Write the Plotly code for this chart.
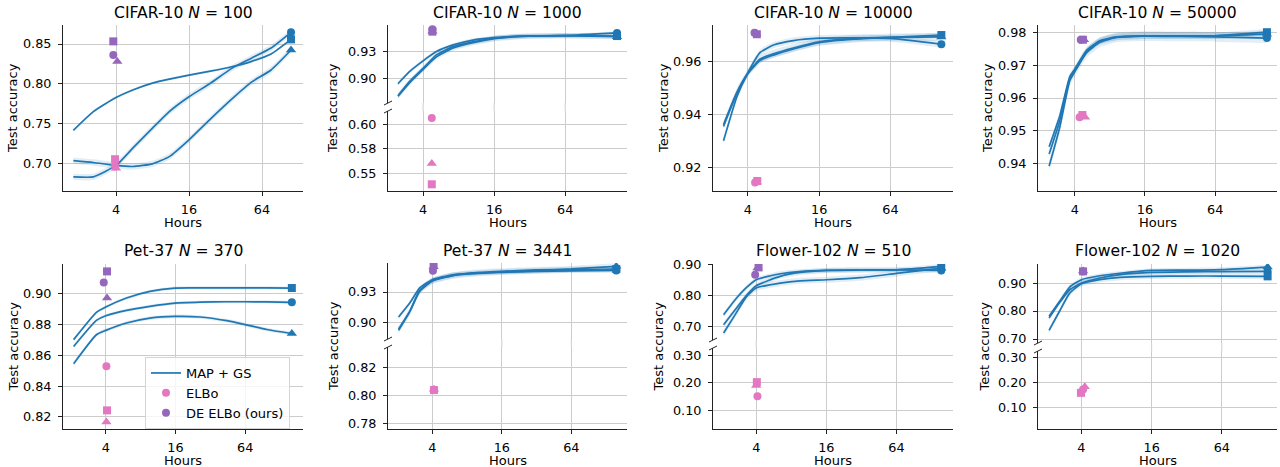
import math
import plotly.graph_objects as go

W, H = 1280, 467
BLUE = "#1f77b4"
PINK = "#e377c2"
PURPLE = "#9467bd"
BAND = "rgba(31,119,180,0.13)"
GRID = "#cccccc"
AXC = "#222222"
SYMBOLS = ["circle", "square", "triangle-up"]

# ---------------- tick labels ----------------
x_ticks = [4, 16, 64]
x_tick_labels = ["4", "16", "64"]

# ---------------- CIFAR-10 N=100 ----------------
c100_t = [1.78, 2.6, 4, 5.5, 8, 11, 16, 24, 36, 52, 76, 111]
c100_circle = [0.6837, 0.6837, 0.698, 0.7196, 0.7446, 0.7654, 0.784, 0.8008, 0.8195, 0.832, 0.845, 0.8646]
c100_square = [0.742, 0.7654, 0.783, 0.7925, 0.801, 0.806, 0.811, 0.816, 0.8215, 0.828, 0.8375, 0.8558]
c100_triangle = [0.704, 0.7017, 0.698, 0.6967, 0.700, 0.709, 0.730, 0.756, 0.781, 0.802, 0.8175, 0.8425]
c100_std = [0.004, 0.0015, 0.004]
c100_elbo_t = [3.93, 3.93, 4.0]
c100_elbo = [0.6967, 0.7058, 0.6946]
c100_de_t = [3.8, 3.8, 4.1]
c100_de = [0.8363, 0.8533, 0.828]
c100_yticks = [0.70, 0.75, 0.80, 0.85]

# ---------------- CIFAR-10 N=1000 ----------------
c1000_t = [2.45, 3.08, 4, 5.19, 7.2, 10.6, 16, 26.5, 64, 176]
c1000_circle = [0.8936, 0.9075, 0.9195, 0.930, 0.9375, 0.943, 0.9457, 0.9475, 0.948, 0.951]
c1000_square = [0.8801, 0.8963, 0.911, 0.9263, 0.9356, 0.941, 0.945, 0.9472, 0.948, 0.9475]
c1000_triangle = [0.8795, 0.895, 0.910, 0.924, 0.934, 0.940, 0.9445, 0.947, 0.948, 0.9468]
c1000_std = [0.002, 0.003, 0.003]
c1000_elbo_t = [4.74, 4.74, 4.74]
c1000_elbo = [0.6061, 0.5388, 0.5599]
c1000_de_t = [4.8, 4.8, 4.8]
c1000_de = [0.9552, 0.9525, 0.953]
c1000_yticks_up = [0.90, 0.93]
c1000_yticks_lo = [0.55, 0.575, 0.60]
c1000_ylabels_lo = ["0.55", "0.58", "0.60"]

# ---------------- CIFAR-10 N=10000 ----------------
c10000_t = [2.49, 3.23, 4, 5.08, 6.58, 9.69, 16.06, 31, 64, 172]
c10000_circle = [0.930, 0.9467, 0.9558, 0.9635, 0.9663, 0.968, 0.9689, 0.969, 0.9688, 0.9666]
c10000_square = [0.9355, 0.948, 0.9555, 0.9605, 0.9625, 0.9648, 0.9672, 0.9685, 0.9692, 0.9701]
c10000_triangle = [0.9362, 0.9485, 0.9557, 0.961, 0.963, 0.9652, 0.9675, 0.9687, 0.9692, 0.9694]
c10000_std = [0.0012, 0.001, 0.0015]
c10000_elbo_t = [4.6, 4.8, 4.75]
c10000_elbo = [0.9142, 0.9148, 0.9144]
c10000_de_t = [4.55, 4.76, 4.7]
c10000_de = [0.9710, 0.9704, 0.9708]
c10000_yticks = [0.92, 0.94, 0.96]

# ---------------- CIFAR-10 N=50000 ----------------
c50000_t = [2.41, 2.97, 3.62, 4, 5.04, 6.56, 9.13, 16, 32, 64, 178]
c50000_circle = [0.9392, 0.951, 0.9652, 0.968, 0.9738, 0.977, 0.9785, 0.9789, 0.9788, 0.9787, 0.9783]
c50000_square = [0.9451, 0.9545, 0.9665, 0.9688, 0.9745, 0.9775, 0.9787, 0.979, 0.979, 0.979, 0.9801]
c50000_triangle = [0.9429, 0.953, 0.966, 0.9685, 0.9742, 0.9773, 0.9786, 0.979, 0.979, 0.979, 0.9795]
c50000_std = [0.0015, 0.001, 0.001]
c50000_elbo_t = [4.4, 4.65, 4.9]
c50000_elbo = [0.9541, 0.9548, 0.9541]
c50000_de_t = [4.5, 4.7, 4.8]
c50000_de = [0.9778, 0.9778, 0.9778]
c50000_yticks = [0.94, 0.95, 0.96, 0.97, 0.98]

# ---------------- Pet-37 N=370 ----------------
p370_t = [2.11, 3.32, 4, 6.04, 9.62, 15.85, 26.1, 44.4, 64, 98.6, 162]
p370_circle = [0.8658, 0.8827, 0.8857, 0.8892, 0.8918, 0.8939, 0.8945, 0.8948, 0.8948, 0.8947, 0.8944]
p370_square = [0.8702, 0.8879, 0.8914, 0.8972, 0.9015, 0.9037, 0.9038, 0.9038, 0.9038, 0.9038, 0.9037]
p370_triangle = [0.8546, 0.8734, 0.8762, 0.881, 0.8842, 0.8853, 0.8849, 0.8825, 0.880, 0.8768, 0.8742]
p370_std = [0.001, 0.001, 0.0012]
p370_elbo_t = [4.05, 4.1, 4.05]
p370_elbo = [0.8529, 0.8243, 0.8168]
p370_de_t = [3.84, 4.1, 4.1]
p370_de = [0.9073, 0.9145, 0.8972]
p370_yticks = [0.82, 0.84, 0.86, 0.88, 0.90]

# ---------------- Pet-37 N=3441 ----------------
p3441_t = [2.04, 2.55, 3.11, 4, 6.04, 9.0, 15.85, 31.8, 64, 157]
p3441_circle = [0.9053, 0.9191, 0.934, 0.9422, 0.9471, 0.9485, 0.9495, 0.9503, 0.951, 0.9514]
p3441_square = [0.892, 0.9105, 0.9307, 0.9408, 0.9462, 0.9481, 0.9498, 0.951, 0.952, 0.9527]
p3441_triangle = [0.8934, 0.9109, 0.9316, 0.9412, 0.9465, 0.949, 0.9505, 0.9518, 0.9528, 0.9554]
p3441_std = [0.002, 0.003, 0.003]
p3441_elbo_t = [4.13, 4.13, 4.13]
p3441_elbo = [0.8045, 0.8042, 0.8048]
p3441_de_t = [4.05, 4.1, 4.1]
p3441_de = [0.951, 0.9565, 0.955]
p3441_yticks_up = [0.90, 0.93]
p3441_yticks_lo = [0.78, 0.80, 0.82]

# ---------------- Flower-102 N=510 ----------------
f510_t = [2.1, 2.64, 3.29, 4, 6.42, 9.52, 16.1, 31.1, 64, 155]
f510_circle = [0.7054, 0.754, 0.80, 0.8319, 0.8622, 0.875, 0.8816, 0.883, 0.8835, 0.8816]
f510_square = [0.7378, 0.7865, 0.8254, 0.8514, 0.8708, 0.878, 0.8816, 0.883, 0.8835, 0.8946]
f510_triangle = [0.6784, 0.738, 0.7957, 0.8243, 0.8405, 0.848, 0.8514, 0.858, 0.872, 0.889]
f510_std = [0.008, 0.008, 0.01]
f510_elbo_t = [4.1, 4.05, 4.0]
f510_elbo = [0.1515, 0.2024, 0.1903]
f510_de_t = [3.92, 4.19, 4.1]
f510_de = [0.8676, 0.8914, 0.8892]
f510_yticks_up = [0.70, 0.80, 0.90]
f510_yticks_lo = [0.10, 0.20, 0.30]

# ---------------- Flower-102 N=1020 ----------------
f1020_t = [2.11, 2.6, 3.17, 4, 5.75, 8.55, 16, 32, 64, 158]
f1020_circle = [0.775, 0.83, 0.876, 0.90, 0.918, 0.93, 0.938, 0.94, 0.941, 0.9417]
f1020_square = [0.731, 0.80, 0.864, 0.8976, 0.912, 0.92, 0.924, 0.925, 0.925, 0.9238]
f1020_triangle = [0.781, 0.8345, 0.8857, 0.912, 0.926, 0.935, 0.945, 0.946, 0.948, 0.957]
f1020_std = [0.008, 0.01, 0.008]
f1020_elbo_t = [4.13, 3.96, 4.27]
f1020_elbo = [0.1709, 0.1576, 0.1815]
f1020_de_t = [4.13, 4.13, 4.13]
f1020_de = [0.941, 0.9417, 0.943]
f1020_yticks_up = [0.70, 0.80, 0.90]
f1020_yticks_lo = [0.10, 0.20, 0.30]


def fmt(vals):
    return ["%.2f" % v for v in vals]


# layout specs: pixel boxes (left, right) and rows (top, bottom, y-range, ticks, labels); x range in log2(hours)
panels = [
    dict(title="CIFAR-10 <i>N</i> = 100", t=c100_t, curves=[c100_circle, c100_square, c100_triangle], std=c100_std,
         elbo_t=c100_elbo_t, elbo=c100_elbo, de_t=c100_de_t, de=c100_de,
         px=(63, 303), xr=(0.548, 7.123), ylab_x=13,
         rows=[(25, 191, [0.666, 0.8738], c100_yticks, fmt(c100_yticks))]),
    dict(title="CIFAR-10 <i>N</i> = 1000", t=c1000_t, curves=[c1000_circle, c1000_square, c1000_triangle], std=c1000_std,
         elbo_t=c1000_elbo_t, elbo=c1000_elbo, de_t=c1000_de_t, de=c1000_de,
         px=(388, 627), xr=(1.012, 7.741), ylab_x=333,
         rows=[(25, 103, [0.8719, 0.960], c1000_yticks_up, fmt(c1000_yticks_up)),
               (111, 191, [0.532, 0.6133], c1000_yticks_lo, c1000_ylabels_lo)]),
    dict(title="CIFAR-10 <i>N</i> = 10000", t=c10000_t, curves=[c10000_circle, c10000_square, c10000_triangle], std=c10000_std,
         elbo_t=c10000_elbo_t, elbo=c10000_elbo, de_t=c10000_de_t, de=c10000_de,
         px=(713, 953), xr=(1.021, 7.753), ylab_x=664,
         rows=[(25, 191, [0.911, 0.9739], c10000_yticks, fmt(c10000_yticks))]),
    dict(title="CIFAR-10 <i>N</i> = 50000", t=c50000_t, curves=[c50000_circle, c50000_square, c50000_triangle], std=c50000_std,
         elbo_t=c50000_elbo_t, elbo=c50000_elbo, de_t=c50000_de_t, de=c50000_de,
         px=(1038, 1277), xr=(0.952, 7.762), ylab_x=988,
         rows=[(25, 191, [0.9316, 0.9823], c50000_yticks, fmt(c50000_yticks))]),
    dict(title="Pet-37 <i>N</i> = 370", t=p370_t, curves=[p370_circle, p370_square, p370_triangle], std=p370_std,
         elbo_t=p370_elbo_t, elbo=p370_elbo, de_t=p370_de_t, de=p370_de,
         px=(63, 303), xr=(0.772, 7.66), ylab_x=13,
         rows=[(264, 429, [0.8122, 0.9193], p370_yticks, fmt(p370_yticks))]),
    dict(title="Pet-37 <i>N</i> = 3441", t=p3441_t, curves=[p3441_circle, p3441_square, p3441_triangle], std=p3441_std,
         elbo_t=p3441_elbo_t, elbo=p3441_elbo, de_t=p3441_de_t, de=p3441_de,
         px=(388, 627), xr=(0.724, 7.602), ylab_x=333,
         rows=[(263, 339, [0.8835, 0.9587], p3441_yticks_up, fmt(p3441_yticks_up)),
               (347, 429, [0.7764, 0.835], p3441_yticks_lo, fmt(p3441_yticks_lo))]),
    dict(title="Flower-102 <i>N</i> = 510", t=f510_t, curves=[f510_circle, f510_square, f510_triangle], std=f510_std,
         elbo_t=f510_elbo_t, elbo=f510_elbo, de_t=f510_de_t, de=f510_de,
         px=(713, 953), xr=(0.768, 7.611), ylab_x=658,
         rows=[(264, 340, [0.6556, 0.9025], f510_yticks_up, fmt(f510_yticks_up)),
               (348, 429, [0.032, 0.3266], f510_yticks_lo, fmt(f510_yticks_lo))]),
    dict(title="Flower-102 <i>N</i> = 1020", t=f1020_t, curves=[f1020_circle, f1020_square, f1020_triangle], std=f1020_std,
         elbo_t=f1020_elbo_t, elbo=f1020_elbo, de_t=f1020_de_t, de=f1020_de,
         px=(1038, 1277), xr=(0.762, 7.571), ylab_x=984,
         rows=[(264, 343, [0.6857, 0.968], f1020_yticks_up, fmt(f1020_yticks_up)),
               (351, 429, [0.0139, 0.324], f1020_yticks_lo, fmt(f1020_yticks_lo))]),
]


def fx(p):
    return p / W


def fy(p):
    return 1 - p / H


FONT = "DejaVu Sans"
TICKF = dict(family=FONT, size=12.8, color="black")
LOG2 = math.log10(2)

fig = go.Figure()
lay = {}
shapes = []
annotations = []
k = 0
first = True

for P in panels:
    left, right = P["px"]
    xr = [P["xr"][0] * LOG2, P["xr"][1] * LOG2]
    rows = P["rows"]
    t = P["t"]
    t_end = t[-1]
    for ri, R in enumerate(rows):
        k += 1
        sfx = "" if k == 1 else str(k)
        is_bottom = ri == len(rows) - 1
        top, bot, yr, yt, ytl = R
        lay["xaxis" + sfx] = dict(
            domain=[fx(left), fx(right)], anchor="y" + sfx, type="log", range=xr,
            tickvals=x_ticks, ticktext=x_tick_labels, showticklabels=is_bottom,
            ticks="outside" if is_bottom else "", ticklen=4, tickwidth=1, tickcolor=AXC,
            showline=is_bottom, linecolor=AXC, linewidth=1, showgrid=True, gridcolor=GRID,
            gridwidth=1, zeroline=False, tickfont=TICKF, ticklabelstandoff=3, fixedrange=True)
        lay["yaxis" + sfx] = dict(
            domain=[fy(bot), fy(top)], anchor="x" + sfx, range=yr, tickvals=yt, ticktext=ytl,
            ticks="outside", ticklen=4, tickwidth=1, tickcolor=AXC, showline=True, linecolor=AXC,
            linewidth=1, showgrid=True, gridcolor=GRID, gridwidth=1, zeroline=False,
            tickfont=TICKF, ticklabelstandoff=4, fixedrange=True)
        xa, ya = "x" + sfx, "y" + sfx
        # bands
        for ci in range(3):
            vals = P["curves"][ci]
            s = P["std"][ci]
            fig.add_trace(go.Scatter(x=t, y=[v - s for v in vals], mode="lines",
                                     line=dict(width=0, shape="spline", smoothing=0.5),
                                     xaxis=xa, yaxis=ya, showlegend=False, hoverinfo="skip"))
            fig.add_trace(go.Scatter(x=t, y=[v + s for v in vals], mode="lines",
                                     line=dict(width=0, shape="spline", smoothing=0.5),
                                     fill="tonexty", fillcolor=BAND,
                                     xaxis=xa, yaxis=ya, showlegend=False, hoverinfo="skip"))
        # mean lines
        for ci in range(3):
            fig.add_trace(go.Scatter(x=t, y=P["curves"][ci], mode="lines", name="MAP + GS",
                                     line=dict(color=BLUE, width=1.7, shape="spline", smoothing=0.5),
                                     xaxis=xa, yaxis=ya, showlegend=(first and ci == 0),
                                     legendrank=1, hoverinfo="skip"))
        # end markers
        for ci in range(3):
            fig.add_trace(go.Scatter(x=[t_end], y=[P["curves"][ci][-1]], mode="markers",
                                     marker=dict(color=BLUE, size=8 if ci < 2 else 9, symbol=SYMBOLS[ci]),
                                     xaxis=xa, yaxis=ya, showlegend=False, hoverinfo="skip"))
        # ELBo
        for ci in range(3):
            fig.add_trace(go.Scatter(x=[P["elbo_t"][ci]], y=[P["elbo"][ci]], mode="markers", name="ELBo",
                                     marker=dict(color=PINK, size=8 if ci < 2 else 9, symbol=SYMBOLS[ci]),
                                     xaxis=xa, yaxis=ya, showlegend=(first and ci == 0),
                                     legendrank=2, hoverinfo="skip"))
        # DE ELBo
        for ci in range(3):
            fig.add_trace(go.Scatter(x=[P["de_t"][ci]], y=[P["de"][ci]], mode="markers", name="DE ELBo (ours)",
                                     marker=dict(color=PURPLE, size=8 if ci < 2 else 9, symbol=SYMBOLS[ci]),
                                     xaxis=xa, yaxis=ya, showlegend=(first and ci == 0),
                                     legendrank=3, hoverinfo="skip"))
        first = False
        if is_bottom:
            bottom_xref = xa
    # broken-axis decorations
    if len(rows) == 2:
        ub = rows[0][1]
        lt = rows[1][0]
        for tv in x_ticks:
            shapes.append(dict(type="line", xref=bottom_xref, yref="paper", x0=tv, x1=tv,
                               y0=fy(lt), y1=fy(ub), line=dict(color=GRID, width=1), layer="below"))
        for yy in (ub, lt):
            shapes.append(dict(type="line", xref="paper", yref="paper",
                               x0=fx(left - 4), y0=fy(yy + 2), x1=fx(left + 4), y1=fy(yy - 2),
                               line=dict(color=AXC, width=1)))
    # texts
    top_px = rows[0][0]
    bot_px = rows[-1][1]
    row1 = top_px < 100
    annotations.append(dict(text=P["title"], x=fx((left + right) / 2), y=fy(13 if row1 else 251),
                            xref="paper", yref="paper", showarrow=False, xanchor="center", yanchor="middle",
                            font=dict(family=FONT, size=15.6, color="black")))
    annotations.append(dict(text="Hours", x=fx((left + right) / 2), y=fy(222 if row1 else 460),
                            xref="paper", yref="paper", showarrow=False, xanchor="center", yanchor="middle",
                            font=dict(family=FONT, size=13, color="black")))
    annotations.append(dict(text="Test accuracy", x=fx(P["ylab_x"]), y=fy((top_px + bot_px) / 2),
                            xref="paper", yref="paper", showarrow=False, xanchor="center", yanchor="middle",
                            textangle=-90, font=dict(family=FONT, size=13, color="black")))

fig.update_layout(
    width=W, height=H, autosize=False, template="none",
    margin=dict(l=0, r=0, t=0, b=0, pad=0),
    paper_bgcolor="white", plot_bgcolor="rgba(0,0,0,0)",
    font=dict(family=FONT, size=13, color="black"),
    showlegend=True, hovermode=False,
    legend=dict(x=fx(145), y=fy(357), xanchor="left", yanchor="top", traceorder="normal",
                bgcolor="rgba(255,255,255,0.8)", bordercolor="#d5d5d5", borderwidth=1,
                font=dict(family=FONT, size=13, color="black"), itemwidth=30, tracegroupgap=0),
    shapes=shapes, annotations=annotations,
    **lay,
)

fig.write_html("out.html", config={"displayModeBar": False},
               post_script="document.body.style.margin='0';document.body.style.overflow='hidden';")
